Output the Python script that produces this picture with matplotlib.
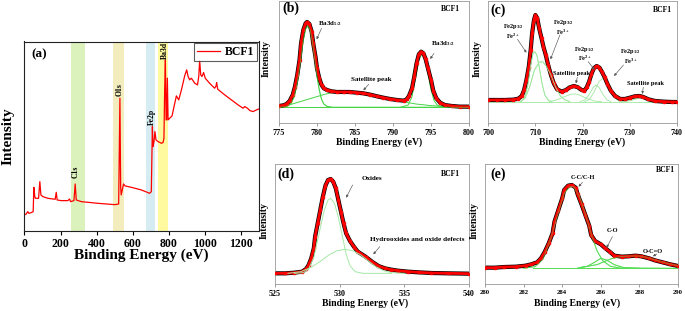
import matplotlib

matplotlib.use("Agg")
import matplotlib.pyplot as plt

plt.rcParams["font.family"] = ["Liberation Serif", "DejaVu Serif"]
plt.rcParams["font.weight"] = "bold"
plt.rcParams["mathtext.fontset"] = "custom"
plt.rcParams["mathtext.rm"] = "Liberation Serif:bold"
plt.rcParams["mathtext.bf"] = "Liberation Serif:bold"
plt.rcParams["mathtext.it"] = "Liberation Serif:bold"
plt.rcParams["mathtext.default"] = "bf"

# ---- (a) survey spectrum ----
survey_ev = [0, 9, 18, 24, 37, 48, 52, 57, 61, 78, 85, 91, 102, 130, 170, 176, 181, 204, 240, 250,
             255, 274, 281, 287, 315, 407, 500, 522, 529, 533, 536, 542, 549, 558, 592, 648, 694, 703, 709, 712,
             718, 723, 729, 740, 759, 768, 773, 777, 781, 785, 788, 792, 796, 805, 818, 829, 842, 855, 870, 888,
             899, 907, 916, 925, 944, 959, 966, 971, 977, 984, 993, 1002, 1026, 1054, 1062, 1065, 1071, 1110, 1147, 1184,
             1212, 1221, 1236, 1249, 1267, 1286, 1300]
survey_int = [48, 51, 58, 53, 55, 58, 131, 103, 98, 98, 148, 108, 103, 98, 95, 116, 93, 91, 91, 96,
              88, 91, 141, 93, 88, 83, 79, 81, 398, 133, 108, 123, 141, 135, 131, 123, 113, 118, 313, 253,
              268, 298, 273, 268, 263, 265, 278, 423, 513, 333, 333, 458, 333, 338, 345, 373, 405, 393, 423, 465,
              483, 463, 453, 458, 443, 438, 463, 511, 468, 463, 475, 458, 443, 428, 435, 445, 425, 408, 393, 378,
              368, 373, 368, 361, 358, 363, 366]
band_names = ["C1s", "O1s", "Fe2p", "Ba3d"]
band_lo = [260, 490, 671, 741]
band_hi = [335, 550, 723, 793]
band_colors = ["#dcf2bd", "#f3edbd", "#d5ecf2", "#fffaa0"]
peak_label_ev = [281, 529, 707, 779]
peak_label_int = [158, 405, 318, 515]

# ---- (b) Ba 3d ----
ba_ev = [775.0, 775.6, 776.0, 776.4, 776.8, 777.1, 777.4, 777.7, 777.9, 778.2,
         778.5, 778.7, 779.0, 779.3, 779.5, 779.8, 780.0, 780.3, 780.6, 780.9,
         781.3, 781.9, 782.6, 783.5, 784.3, 785.2, 786.1, 787.0, 787.9, 788.7,
         789.6, 790.5, 791.4, 791.8, 792.1, 792.5, 792.8, 793.1, 793.4, 793.7,
         794.0, 794.3, 794.6, 795.0, 795.3, 795.7, 796.2, 796.8, 797.7, 798.8, 800.0]
ba_int = [52, 54, 58, 67, 85, 110, 145, 190, 240, 280,
          300, 304, 298, 275, 240, 200, 165, 135, 115, 105,
          100, 96, 94, 94, 94, 92, 90, 86, 81, 77,
          73, 70, 68, 72, 82, 105, 140, 180, 207, 215,
          210, 192, 165, 130, 98, 75, 62, 55, 52, 50, 50]
ba_52_ev = [775.0, 776.0, 776.6, 777.0, 777.4, 777.8, 778.2, 778.5, 778.8, 779.1,
            779.4, 779.7, 780.0, 780.3, 780.6, 780.9, 781.3, 782.0, 800.0]
ba_52_int = [48, 50, 60, 80, 120, 180, 250, 283, 292, 280, 245, 195, 140, 100, 72, 58, 51, 48, 48]
ba_sat_ev = [775.6, 781.0, 782.0, 784.0, 786.0, 788.0, 790.0, 791.5, 793.0, 795.0, 797.0, 800.0]
ba_sat_int = [50, 87, 92, 92, 88, 80, 72, 64, 58, 53, 50, 48]
ba_32_ev = [791.0, 792.0, 792.5, 793.0, 793.4, 793.8, 794.2, 794.6, 795.0, 795.4, 795.8, 796.5, 797.5]
ba_32_int = [48, 55, 80, 140, 190, 208, 195, 150, 100, 68, 55, 49, 48]

# ---- (c) Fe 2p ----
fe_ev = [700.0, 701.8, 703.5, 705.3, 706.4, 707.1, 707.6, 708.1, 708.6, 709.0,
         709.3, 709.7, 710.0, 710.4, 710.8, 711.3, 711.7, 712.2, 712.7, 713.3,
         713.9, 714.6, 715.6, 716.5, 717.3, 718.2, 719.0, 719.8, 720.4, 720.9,
         721.4, 721.9, 722.4, 723.0, 723.6, 724.1, 724.7, 725.3, 726.0, 726.9,
         728.0, 729.0, 730.1, 731.1, 732.1, 732.9, 734.0, 735.4, 737.2, 738.9, 740.0]
fe_int = [70, 70, 70, 71, 74, 82, 100, 130, 170, 220,
          270, 310, 325, 315, 285, 255, 230, 205, 175, 145,
          120, 102, 95, 100, 108, 112, 108, 100, 98, 108,
          125, 148, 165, 172, 167, 155, 138, 118, 98, 82,
          73, 73, 77, 81, 82, 79, 72, 67, 65, 64, 64]
fe_comp_ev = [
    [707.0, 707.8, 708.4, 709.0, 709.5, 709.9, 710.3, 710.8, 711.4, 712.0, 712.8, 713.5],
    [706.8, 707.8, 708.8, 709.8, 710.8, 711.5, 712.3, 713.3, 714.3, 715.3, 716.3, 717.3],
    [713.0, 714.5, 716.0, 717.5, 718.5, 719.5, 721.0, 722.5, 724.0],
    [719.5, 720.5, 721.5, 722.3, 722.9, 723.5, 724.3, 725.2, 726.0],
    [720.5, 721.5, 722.5, 723.5, 724.3, 725.0, 725.8, 726.7, 727.7, 729.0],
    [729.0, 730.5, 731.8, 732.5, 733.3, 734.5, 736.0],
    [700.0, 740.0],
]
fe_comp_int = [
    [65, 80, 115, 175, 210, 215, 205, 170, 120, 85, 68, 65],
    [65, 75, 110, 160, 183, 185, 172, 145, 108, 82, 70, 65],
    [65, 70, 79, 87, 88, 84, 74, 67, 65],
    [65, 70, 88, 108, 115, 108, 88, 70, 65],
    [65, 72, 95, 125, 135, 125, 100, 78, 67, 65],
    [65, 69, 75, 77, 74, 68, 65],
    [65, 65],
]

# ---- (d) O 1s ----
o_ev = [525.0, 525.8, 526.5, 527.1, 527.4, 527.6, 527.8, 528.0, 528.1, 528.3,
        528.5, 528.7, 528.9, 529.1, 529.3, 529.5, 529.7, 529.9, 530.1, 530.3,
        530.5, 530.8, 531.1, 531.4, 532.0, 532.5, 533.0, 533.5, 534.0, 534.5,
        535.3, 536.1, 537.1, 538.4, 540.0]
o_int = [32, 32, 34, 37, 45, 57, 77, 107, 142, 182,
         222, 262, 295, 312, 315, 307, 287, 252, 217, 182,
         152, 129, 112, 97, 82, 67, 54, 47, 43, 40,
         37, 35, 33, 32, 31]
o_oxide_ev = [526.5, 527.2, 527.6, 528.0, 528.4, 528.8, 529.1, 529.3, 529.6, 529.9,
              530.2, 530.5, 530.8, 531.2, 531.8, 534.0]
o_oxide_int = [32, 34, 45, 80, 150, 220, 252, 257, 242, 200, 145, 90, 55, 37, 32, 32]
o_hydr_ev = [526.0, 527.0, 527.8, 528.5, 529.2, 529.8, 530.4, 531.0, 531.6, 532.2, 532.8, 533.4, 534.0, 535.0]
o_hydr_int = [32, 37, 50, 68, 88, 100, 104, 100, 88, 70, 52, 40, 34, 32]

# ---- (e) C 1s ----
c_ev = [280.0, 280.5, 281.0, 281.6, 282.1, 282.4, 282.7, 282.9, 283.1, 283.3,
        283.5, 283.6, 283.8, 284.0, 284.1, 284.3, 284.5, 284.7, 284.8, 285.0,
        285.2, 285.4, 285.5, 285.7, 286.0, 286.2, 286.5, 286.7, 287.1, 287.4,
        287.8, 288.1, 288.5, 288.8, 289.2, 289.6, 290.0]
c_int = [49, 49, 51, 52, 55, 59, 65, 77, 97, 122,
         152, 187, 222, 257, 282, 295, 297, 289, 269, 239,
         207, 175, 147, 129, 119, 109, 95, 85, 82, 83,
         85, 83, 77, 71, 65, 59, 54]
c_comp_ev = [
    [282.0, 282.6, 283.0, 283.4, 283.8, 284.1, 284.4, 284.6, 284.9, 285.2, 285.5, 285.8, 286.1, 286.5, 287.0, 290.0],
    [284.8, 285.3, 285.7, 286.0, 286.3, 286.7, 287.2, 288.0],
    [285.0, 285.8, 286.5, 287.0, 287.5, 288.0, 288.5, 289.0, 289.5, 290.0],
    [282.5, 290.0],
]
c_comp_int = [
    [47, 52, 75, 135, 215, 272, 293, 292, 262, 210, 150, 100, 70, 53, 48, 47],
    [48, 53, 66, 77, 72, 58, 49, 47],
    [50, 58, 75, 82, 84, 84, 78, 69, 61, 55],
    [47, 47],
]

W, H = 685, 311
fig = plt.figure(figsize=(W / 100, H / 100), dpi=100)


def px_axes(left, right, top, bottom):
    return fig.add_axes([left / W, (H - bottom) / H, (right - left) / W, (bottom - top) / H])


def style_small(ax, xlim, ylim, ticks, tick_size, ylab_x, xlab_pos):
    ax.set_xlim(*xlim)
    ax.set_ylim(*ylim)
    ax.set_xticks(ticks)
    ax.set_yticks([])
    for s in ax.spines.values():
        s.set_color("#9a9a9a")
        s.set_linewidth(0.6)
    ax.tick_params(axis="x", direction="out", length=2.5, width=0.5, color="#777777",
                   labelsize=tick_size, pad=1.5)
    ax.set_ylabel("Intensity", fontsize=7, fontweight="bold")
    ax.yaxis.set_label_coords(ylab_x, 0.53)
    ax.set_xlabel("Binding Energy (eV)", fontsize=7, fontweight="bold")
    ax.xaxis.set_label_coords(*xlab_pos)


def draw_env(ax, x, y):
    ax.plot(x, y, color="black", lw=3.0, zorder=2)
    ax.plot(x, y, color="red", lw=2.0, marker="s", ms=1.6, zorder=3)


def note(ax, text, xy_text, xy_arrow_from, xy_to, size=5):
    ax.text(xy_text[0], xy_text[1], text, fontsize=size, fontweight="bold",
            ha="center", va="center", zorder=5)
    ax.annotate("", xy=xy_to, xytext=xy_arrow_from,
                arrowprops=dict(arrowstyle="-|>", color="#555555", lw=0.45,
                                mutation_scale=3.5, shrinkA=0, shrinkB=0), zorder=5)


def tags(ax, letter, lpos, bpos):
    ax.text(lpos[0], lpos[1], letter, transform=ax.transAxes, fontsize=10,
            fontweight="bold", ha="left", va="center")
    ax.text(bpos[0], bpos[1], "BCF1", transform=ax.transAxes, fontsize=5.5,
            fontweight="bold", ha="right", va="center")


# (a)
ax = px_axes(24.5, 259, 41.5, 231)
for lo, hi, col in zip(band_lo, band_hi, band_colors):
    ax.axvspan(lo, hi, color=col, lw=0, zorder=0)
ax.plot(survey_ev, survey_int, color="red", lw=0.9, label="BCF1", zorder=2)
for name, xe, yi in zip(band_names, peak_label_ev, peak_label_int):
    ax.text(xe, yi, name, rotation=90, fontsize=5.5, fontweight="bold",
            ha="center", va="bottom", zorder=3)
ax.set_xlim(0, 1300)
ax.set_ylim(0, 568)
ax.set_xticks([0, 200, 400, 600, 800, 1000, 1200])
ax.set_yticks([])
for s in ax.spines.values():
    s.set_color("#222222")
    s.set_linewidth(0.8)
ax.tick_params(axis="x", direction="out", length=3, width=0.8, labelsize=8.5, pad=2)
ax.set_xlabel("Binding Energy (eV)", fontsize=11, fontweight="bold")
ax.xaxis.set_label_coords(0.5, -0.095)
ax.set_ylabel("Intensity", fontsize=11, fontweight="bold")
ax.yaxis.set_label_coords(-0.042, 0.5)
ax.text(0.028, 0.934, "(a)", transform=ax.transAxes, fontsize=9.5, fontweight="bold",
        ha="left", va="center")
leg = ax.legend(loc="upper right", frameon=True, fancybox=False,
                borderpad=0.25, handlelength=2.0, handletextpad=0.4,
                borderaxespad=0.15, prop={"weight": "bold", "size": 8.5})
leg.get_frame().set_edgecolor("#333333")
leg.get_frame().set_linewidth(0.8)

# (b)
ax = px_axes(279, 469, 1, 123.3)
g = "#44d444"
ax.plot(ba_52_ev, ba_52_int, color=g, lw=0.7, zorder=1)
ax.plot(ba_sat_ev, ba_sat_int, color=g, lw=0.7, zorder=1)
ax.plot(ba_32_ev, ba_32_int, color=g, lw=0.7, zorder=1)
ax.plot([775, 800], [48, 48], color=g, lw=0.7, zorder=1)
draw_env(ax, ba_ev, ba_int)
ax.plot(ba_52_ev, ba_52_int, color=g, lw=0.7, zorder=4, alpha=0.6)
style_small(ax, (775, 800), (0, 367), [775, 780, 785, 790, 795, 800], 5.8, -0.042, (0.526, -0.112))
note(ax, "Ba3d$_{5/2}$", (781.7, 298), (780.6, 285), (779.95, 252))
note(ax, "Ba3d$_{3/2}$", (796.6, 240), (795.4, 210), (794.9, 193))
note(ax, "Satellite peak", (787.1, 130), (786.8, 117), (786.1, 99))
tags(ax, "(b)", (0.016, 0.94), (0.953, 0.934))

# (c)
ax = px_axes(488.3, 676.7, 1, 123.3)
g = "#9fe89f"
for xs, ys in zip(fe_comp_ev, fe_comp_int):
    ax.plot(xs, ys, color=g, lw=0.6, zorder=1)
draw_env(ax, fe_ev, fe_int)
for xs, ys in zip(fe_comp_ev[:2], fe_comp_int[:2]):
    ax.plot(xs, ys, color=g, lw=0.6, zorder=4)
style_small(ax, (700, 740), (0, 367), [700, 710, 720, 730, 740], 5.8, -0.033, (0.497, -0.112))
note(ax, "Fe2p$_{3/2}$", (705.3, 290), (706.2, 252), (708.1, 212), 4.6)
ax.text(705.3, 262, "Fe$^{2+}$", fontsize=4.6, ha="center", va="center", fontweight="bold")
note(ax, "Fe2p$_{3/2}$", (715.9, 302), (715.2, 265), (713.2, 192), 4.6)
ax.text(715.9, 274, "Fe$^{3+}$", fontsize=4.6, ha="center", va="center", fontweight="bold")
note(ax, "Fe2p$_{1/2}$", (720.5, 222), (721.2, 185), (722.6, 160), 4.6)
ax.text(720.5, 195, "Fe$^{2+}$", fontsize=4.6, ha="center", va="center", fontweight="bold")
note(ax, "Fe2p$_{1/2}$", (730.2, 215), (728.7, 175), (726.7, 142), 4.6)
ax.text(730.2, 185, "Fe$^{3+}$", fontsize=4.6, ha="center", va="center", fontweight="bold")
note(ax, "Satellite peak", (717.7, 150), (718.9, 138), (718.6, 120), 4.6)
note(ax, "Satellite peak", (733.4, 118), (732.9, 108), (732.7, 88), 4.6)
tags(ax, "(c)", (0.009, 0.925), (0.975, 0.926))

# (d)
ax = px_axes(275, 469, 164, 284)
g = "#a6e8a6"
ax.plot(o_oxide_ev, o_oxide_int, color=g, lw=0.7, zorder=4)
ax.plot(o_hydr_ev, o_hydr_int, color=g, lw=0.7, zorder=4)
draw_env(ax, o_ev, o_int)
style_small(ax, (525, 540), (0, 360), [525, 530, 535, 540], 5.8, -0.031, (0.464, -0.117))
note(ax, "Oxides", (532.5, 317), (531.0, 297), (530.5, 259))
note(ax, "Hydrooxides and oxide defects", (536.0, 135), (533.1, 112), (532.6, 89), 5.2)
tags(ax, "(d)", (0.01, 0.917), (0.954, 0.917))

# (e)
ax = px_axes(485, 678, 164, 284)
g = "#55dd55"
for xs, ys in zip(c_comp_ev, c_comp_int):
    ax.plot(xs, ys, color=g, lw=0.7, zorder=1)
draw_env(ax, c_ev, c_int)
for xs, ys in zip(c_comp_ev, c_comp_int):
    ax.plot(xs, ys, color=g, lw=0.7, zorder=4, alpha=0.5)
style_small(ax, (280, 290), (0, 360), [280, 282, 284, 286, 288, 290], 4.8, -0.031, (0.477, -0.117))
note(ax, "C-C/C-H", (285.1, 319), (285.05, 305), (284.85, 292), 4.6)
note(ax, "C-O", (286.6, 159), (286.6, 142), (286.3, 109), 4.6)
note(ax, "O-C=O", (288.7, 97), (288.9, 90), (288.7, 83), 4.6)
tags(ax, "(e)", (0.026, 0.917), (0.984, 0.95))

fig.savefig("out.png", dpi=100)
